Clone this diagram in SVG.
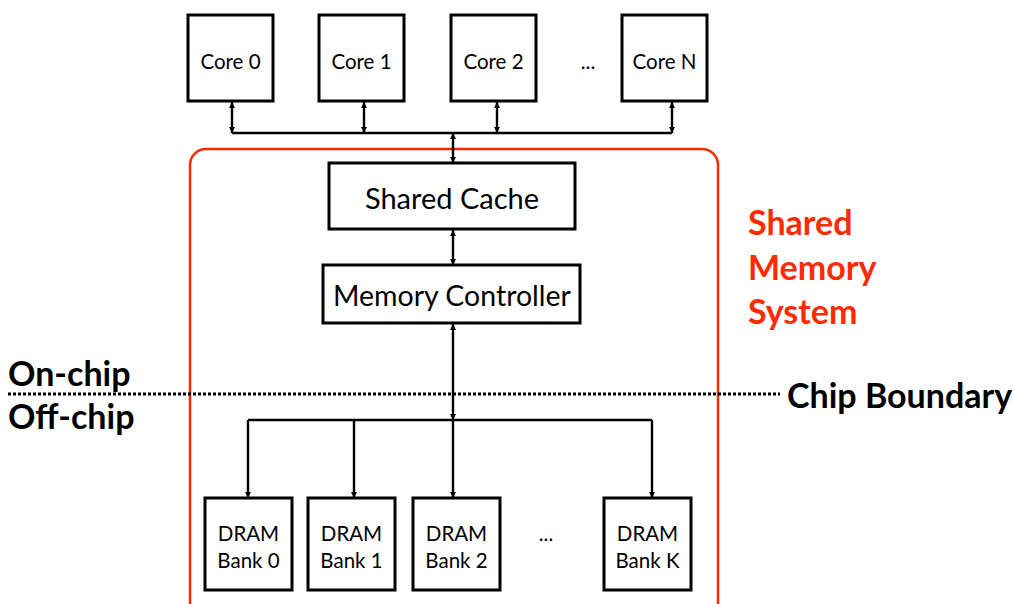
<svg xmlns="http://www.w3.org/2000/svg" width="1014" height="604" viewBox="0 0 1014 604">
  <style>
    .box { fill: #fff; stroke: #000; stroke-width: 3; }
    .lbl { font-family: Lato, "Open Sans", sans-serif; fill: #000; text-anchor: middle; }
    .wire { fill: none; stroke: #000; stroke-width: 2.4; }
    .side { font-family: Lato, "Open Sans", sans-serif; font-weight: bold; fill: #000; font-size: 34px; }
    .red { font-family: Lato, "Open Sans", sans-serif; font-weight: bold; fill: #ff2a00; font-size: 34px; }
    .sm { font-size: 20.5px; }
  </style>
  <defs>
    <marker id="tip" viewBox="0 0 10 10" refX="10" refY="5" markerWidth="6" markerHeight="6" orient="auto-start-reverse" markerUnits="userSpaceOnUse">
      <path d="M0,0 L10,5 L0,10 z" fill="#000"/>
    </marker>
  </defs>

  <rect id="shared-memory-system" x="190" y="149" width="528" height="470" rx="16" fill="none" stroke="#ff2a00" stroke-width="2.5"/>

  <g id="connectors">
    <!-- core bus -->
    <path class="wire" d="M232,133 H672"/>
    <path class="wire" d="M232,102 V133" marker-start="url(#tip)" marker-end="url(#tip)"/>
    <path class="wire" d="M364,102 V133" marker-start="url(#tip)" marker-end="url(#tip)"/>
    <path class="wire" d="M497,102 V133" marker-start="url(#tip)" marker-end="url(#tip)"/>
    <path class="wire" d="M672,102 V133" marker-start="url(#tip)" marker-end="url(#tip)"/>
    <path class="wire" d="M453,133 V163" marker-start="url(#tip)" marker-end="url(#tip)"/>
    <!-- cache to controller -->
    <path class="wire" d="M453,230 V265" marker-start="url(#tip)" marker-end="url(#tip)"/>
    <!-- controller to DRAM bus -->
    <path class="wire" d="M453,324 V420" marker-start="url(#tip)" marker-end="url(#tip)"/>
    <path class="wire" d="M248,420 H652"/>
    <path class="wire" d="M248,420 V498" marker-end="url(#tip)"/>
    <path class="wire" d="M354,420 V498" marker-end="url(#tip)"/>
    <path class="wire" d="M453,420 V498" marker-end="url(#tip)"/>
    <path class="wire" d="M652,420 V498" marker-end="url(#tip)"/>
  </g>

  <!-- chip boundary -->
  <line x1="8" y1="394" x2="780" y2="394" stroke="#000" stroke-width="3" stroke-dasharray="3,2"/>
  <text class="side" x="8" y="386">On-chip</text>
  <text class="side" x="8" y="429">Off-chip</text>
  <text class="side" x="787" y="408">Chip Boundary</text>

  <text class="red" x="748" y="235">Shared</text>
  <text class="red" x="748" y="280">Memory</text>
  <text class="red" x="748" y="324">System</text>

  <g id="core0"><rect class="box" x="188" y="15" width="85" height="86"/><text class="lbl sm" x="230.5" y="69">Core 0</text></g>
  <g id="core1"><rect class="box" x="319" y="15" width="85" height="86"/><text class="lbl sm" x="361.5" y="69">Core 1</text></g>
  <g id="core2"><rect class="box" x="451" y="15" width="85" height="86"/><text class="lbl sm" x="493.5" y="69">Core 2</text></g>
  <text class="lbl sm" x="588" y="69">...</text>
  <g id="coreN"><rect class="box" x="622" y="15" width="85" height="86"/><text class="lbl sm" x="664.5" y="69">Core N</text></g>

  <g id="shared-cache"><rect class="box" x="329" y="163" width="246" height="66"/><text class="lbl" x="452" y="209" font-size="29">Shared Cache</text></g>
  <g id="memory-controller"><rect class="box" x="323" y="265" width="257" height="58"/><text class="lbl" x="452" y="306" font-size="28.5">Memory Controller</text></g>

  <g id="bank0"><rect class="box" x="205" y="498" width="87" height="92"/><text class="lbl sm" x="248.5" y="541">DRAM</text><text class="lbl sm" x="248.5" y="568">Bank 0</text></g>
  <g id="bank1"><rect class="box" x="308" y="498" width="87" height="92"/><text class="lbl sm" x="351.5" y="541">DRAM</text><text class="lbl sm" x="351.5" y="568">Bank 1</text></g>
  <g id="bank2"><rect class="box" x="413" y="498" width="87" height="92"/><text class="lbl sm" x="456.5" y="541">DRAM</text><text class="lbl sm" x="456.5" y="568">Bank 2</text></g>
  <text class="lbl sm" x="546" y="541">...</text>
  <g id="bankK"><rect class="box" x="604" y="498" width="87" height="92"/><text class="lbl sm" x="647.5" y="541">DRAM</text><text class="lbl sm" x="647.5" y="568">Bank K</text></g>
</svg>
